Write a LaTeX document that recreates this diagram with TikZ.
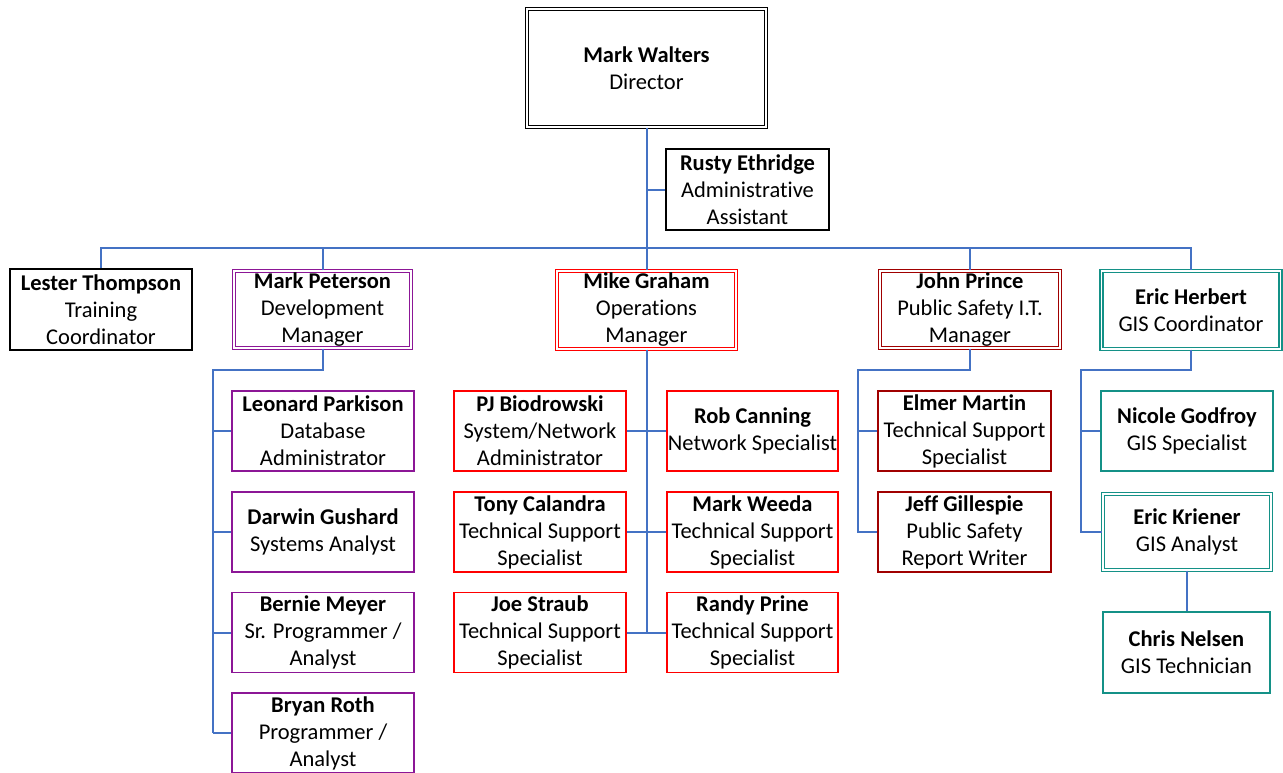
\documentclass[tikz,border=0pt]{standalone}
\usepackage{fontspec}
\setmainfont{Carlito}[Ligatures=NoCommon]
\usetikzlibrary{calc}

\definecolor{linkblue}{RGB}{68,114,196}
\definecolor{devpurple}{RGB}{140,22,150}
\definecolor{opsred}{RGB}{255,0,0}
\definecolor{psred}{RGB}{160,0,0}
\definecolor{gisteal}{RGB}{20,145,135}

\begin{document}
\begin{tikzpicture}
			[x=1pt,y=-1pt,
			person/.style={draw,rectangle,line width=1.5pt,align=center,inner sep=0pt,
				font=\fontsize{22.5}{27}\selectfont,minimum width=172pt,minimum height=80pt},
			lead/.style={person,double,double distance=1.8pt,line width=1.4pt},
			link/.style={draw=linkblue,line width=2pt},]
			\useasboundingbox (0,0) rectangle (1283,772);
			% top of the chart
			\node (dir) at (646.5,68)[lead,draw=black,minimum width=239pt,minimum height=118pt] {\textbf{Mark Walters}\\Director};
			\node (rusty) at (747.5,189.5)[person,minimum width=163pt,minimum height=81pt] {\textbf{Rusty Ethridge}\\Administrative\\Assistant};
			\node (lester) at (101,309.5)[person,minimum width=182pt,minimum height=81pt] {\textbf{Lester Thompson}\\Training\\Coordinator};
			\node (peterson) at (322.5,309.5)[lead,draw=devpurple,minimum width=177pt,minimum height=77pt] {\textbf{Mark Peterson}\\Development\\Manager};
			\node (graham) at (646.5,310)[lead,draw=opsred,minimum width=179pt,minimum height=78pt] {\textbf{Mike Graham}\\Operations\\Manager};
			\node (prince) at (970,309.5)[lead,draw=psred,minimum width=180pt,minimum height=77pt] {\textbf{John Prince}\\Public Safety I.T.\\Manager};
			\node (herbert) at (1191,310)[lead,draw=gisteal,minimum width=179pt,minimum height=78pt] {\textbf{Eric Herbert}\\GIS Coordinator};
			% development
			\node (leonard) at (323,431)[person,draw=devpurple,minimum width=182pt] {\textbf{Leonard Parkison}\\Database\\Administrator};
			\node (darwin) at (323,532)[person,draw=devpurple,minimum width=182pt] {\textbf{Darwin Gushard}\\Systems Analyst};
			\node (bernie) at (323,632.5)[person,draw=devpurple,minimum width=182pt] {\textbf{Bernie Meyer}\\Sr. Programmer /\\Analyst};
			\node (bryan) at (323,733)[person,draw=devpurple,minimum width=182pt] {\textbf{Bryan Roth}\\Programmer /\\Analyst};
			% operations
			\node (pj) at (540,431)[person,draw=opsred] {\textbf{PJ Biodrowski}\\System/Network\\Administrator};
			\node (tony) at (540,532)[person,draw=opsred] {\textbf{Tony Calandra}\\Technical Support\\Specialist};
			\node (joe) at (540,632.5)[person,draw=opsred] {\textbf{Joe Straub}\\Technical Support\\Specialist};
			\node (rob) at (752.5,431)[person,draw=opsred,minimum width=171pt] {\textbf{Rob Canning}\\Network Specialist};
			\node (weeda) at (752.5,532)[person,draw=opsred,minimum width=171pt] {\textbf{Mark Weeda}\\Technical Support\\Specialist};
			\node (randy) at (752.5,632.5)[person,draw=opsred,minimum width=171pt] {\textbf{Randy Prine}\\Technical Support\\Specialist};
			% public safety
			\node (elmer) at (964.5,431)[person,draw=psred,minimum width=173pt] {\textbf{Elmer Martin}\\Technical Support\\Specialist};
			\node (jeff) at (964.5,532)[person,draw=psred,minimum width=173pt] {\textbf{Jeff Gillespie}\\Public Safety\\Report Writer};
			% gis
			\node (nicole) at (1187,431)[person,draw=gisteal] {\textbf{Nicole Godfroy}\\GIS Specialist};
			\node (kriener) at (1187,532)[lead,draw=gisteal,minimum width=168pt,minimum height=76pt] {\textbf{Eric Kriener}\\GIS Analyst};
			\node (chris) at (1186.5,652.5)[person,draw=gisteal,minimum width=167pt,minimum height=81pt] {\textbf{Chris Nelsen}\\GIS Technician};
			
			\coordinate (bus) at (646.5,248);
			\coordinate (devbus) at (213,370);
			\coordinate (psbus) at (858,370);
			\coordinate (gisbus) at (1081,370);
			\draw[link] (dir.south) -- (graham.north);
			\draw[link] (dir.south |- rusty.west) -- (rusty.west);
			\draw[link] (lester.north) |- (bus) -| (herbert.north);
			\draw[link] (peterson.north) -- (peterson.north |- bus);
			\draw[link] (prince.north) -- (prince.north |- bus);
			\draw[link] (peterson.south) |- (devbus) -- (devbus |- bryan.west);
			\foreach \p in {leonard,darwin,bernie,bryan}
				\draw[link] (devbus |- \p.west) -- (\p.west);
			\draw[link] (graham.south) -- (graham.south |- joe.east);
			\draw[link] (pj.east) -- (rob.west);
			\draw[link] (tony.east) -- (weeda.west);
			\draw[link] (joe.east) -- (randy.west);
			\draw[link] (prince.south) |- (psbus) -- (psbus |- jeff.west) -- (jeff.west);
			\draw[link] (psbus |- elmer.west) -- (elmer.west);
			\draw[link] (herbert.south) |- (gisbus) -- (gisbus |- kriener.west) -- (kriener.west);
			\draw[link] (gisbus |- nicole.west) -- (nicole.west);
			\draw[link] (kriener.south) -- (kriener.south |- chris.north);
			
	\end{tikzpicture}
\end{document}
